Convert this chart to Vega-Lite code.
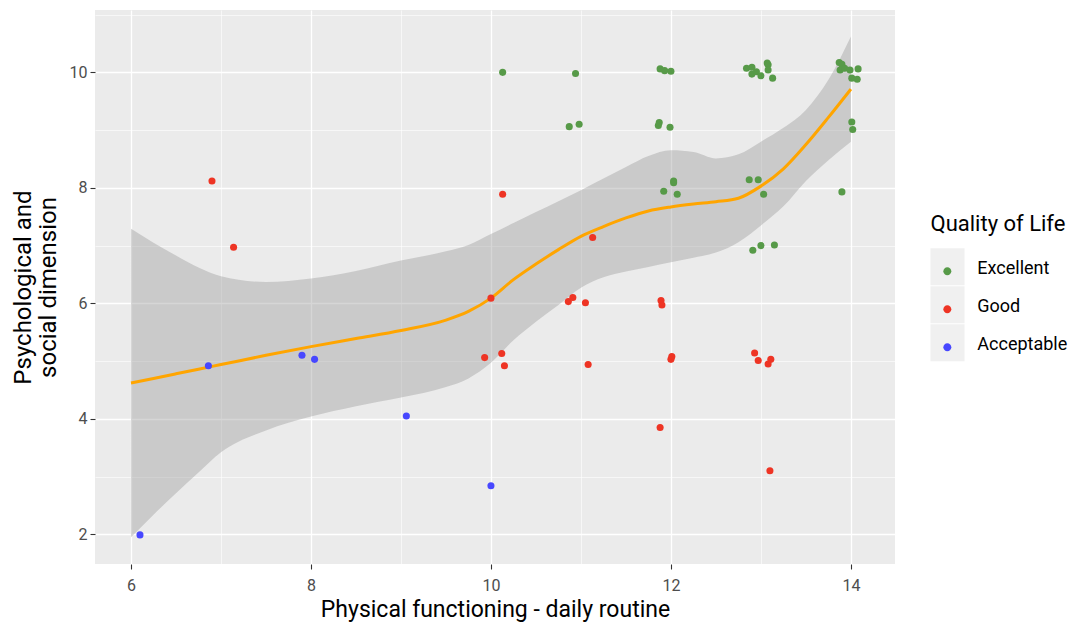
{
  "$schema": "https://vega.github.io/schema/vega-lite/v6.json",
  "width": 800,
  "height": 554,
  "autosize": {"type": "none"},
  "padding": {"left": 95, "top": 10, "right": 178, "bottom": 61},
  "background": "white",
  "view": {"fill": "#EBEBEB", "stroke": null},
  "config": {
    "font": "Roboto",
    "view": {"fill": "#EBEBEB", "stroke": null},
    "axis": {
      "grid": true,
      "gridColor": "#FFFFFF",
      "gridWidth": {"condition": {"test": "datum.value % 2 === 0", "value": 1.3}, "value": 0.6},
      "tickOpacity": {"condition": {"test": "datum.value % 2 === 0", "value": 1}, "value": 0},
      "labelExpr": "datum.value % 2 === 0 ? datum.label : ''",
      "format": "d",
      "domain": false,
      "tickColor": "#333333",
      "tickSize": 5,
      "tickWidth": 1.1,
      "labelColor": "#4D4D4D",
      "labelFontSize": 16,
      "titleFontWeight": "normal",
      "titleColor": "#000000"
    }
  },
  "datasets": {
    "smooth": [
      {"x": 6.0, "fit": 4.62, "lo": 1.95, "hi": 7.29},
      {"x": 6.25, "fit": 4.70, "lo": 2.34, "hi": 7.05},
      {"x": 6.5, "fit": 4.78, "lo": 2.71, "hi": 6.83},
      {"x": 6.75, "fit": 4.86, "lo": 3.07, "hi": 6.62},
      {"x": 7.0, "fit": 4.94, "lo": 3.42, "hi": 6.47},
      {"x": 7.5, "fit": 5.10, "lo": 3.80, "hi": 6.37},
      {"x": 8.0, "fit": 5.25, "lo": 4.04, "hi": 6.43},
      {"x": 8.5, "fit": 5.39, "lo": 4.22, "hi": 6.56},
      {"x": 9.0, "fit": 5.53, "lo": 4.37, "hi": 6.74},
      {"x": 9.5, "fit": 5.71, "lo": 4.55, "hi": 6.90},
      {"x": 9.75, "fit": 5.86, "lo": 4.70, "hi": 7.01},
      {"x": 10.0, "fit": 6.09, "lo": 4.97, "hi": 7.20},
      {"x": 10.25, "fit": 6.41, "lo": 5.36, "hi": 7.39},
      {"x": 10.5, "fit": 6.68, "lo": 5.68, "hi": 7.58},
      {"x": 10.75, "fit": 6.93, "lo": 5.97, "hi": 7.77},
      {"x": 11.0, "fit": 7.16, "lo": 6.27, "hi": 7.96},
      {"x": 11.25, "fit": 7.33, "lo": 6.45, "hi": 8.16},
      {"x": 11.5, "fit": 7.48, "lo": 6.55, "hi": 8.36},
      {"x": 11.75, "fit": 7.60, "lo": 6.63, "hi": 8.55},
      {"x": 12.0, "fit": 7.67, "lo": 6.71, "hi": 8.65},
      {"x": 12.25, "fit": 7.72, "lo": 6.79, "hi": 8.62},
      {"x": 12.5, "fit": 7.76, "lo": 6.88, "hi": 8.51},
      {"x": 12.75, "fit": 7.82, "lo": 7.06, "hi": 8.58},
      {"x": 13.0, "fit": 8.03, "lo": 7.35, "hi": 8.80},
      {"x": 13.25, "fit": 8.33, "lo": 7.68, "hi": 9.04},
      {"x": 13.5, "fit": 8.75, "lo": 8.12, "hi": 9.35},
      {"x": 13.75, "fit": 9.22, "lo": 8.48, "hi": 9.87},
      {"x": 14.0, "fit": 9.71, "lo": 8.80, "hi": 10.62}
    ],
    "points": [
      {"x": 10.13, "y": 10.0, "Q": "Excellent"},
      {"x": 10.94, "y": 9.98, "Q": "Excellent"},
      {"x": 11.88, "y": 10.06, "Q": "Excellent"},
      {"x": 11.93, "y": 10.03, "Q": "Excellent"},
      {"x": 12.0, "y": 10.02, "Q": "Excellent"},
      {"x": 12.84, "y": 10.07, "Q": "Excellent"},
      {"x": 12.9, "y": 10.09, "Q": "Excellent"},
      {"x": 12.9, "y": 9.97, "Q": "Excellent"},
      {"x": 12.95, "y": 10.01, "Q": "Excellent"},
      {"x": 13.0, "y": 9.94, "Q": "Excellent"},
      {"x": 13.07, "y": 10.16, "Q": "Excellent"},
      {"x": 13.08, "y": 10.13, "Q": "Excellent"},
      {"x": 13.08, "y": 10.04, "Q": "Excellent"},
      {"x": 13.13, "y": 9.9, "Q": "Excellent"},
      {"x": 13.87, "y": 10.17, "Q": "Excellent"},
      {"x": 13.9, "y": 10.14, "Q": "Excellent"},
      {"x": 13.88, "y": 10.04, "Q": "Excellent"},
      {"x": 13.93, "y": 10.07, "Q": "Excellent"},
      {"x": 13.99, "y": 10.04, "Q": "Excellent"},
      {"x": 14.08, "y": 10.06, "Q": "Excellent"},
      {"x": 14.01, "y": 9.9, "Q": "Excellent"},
      {"x": 14.07, "y": 9.88, "Q": "Excellent"},
      {"x": 10.87, "y": 9.06, "Q": "Excellent"},
      {"x": 10.98, "y": 9.1, "Q": "Excellent"},
      {"x": 11.87, "y": 9.13, "Q": "Excellent"},
      {"x": 11.86, "y": 9.08, "Q": "Excellent"},
      {"x": 11.99, "y": 9.05, "Q": "Excellent"},
      {"x": 14.01, "y": 9.14, "Q": "Excellent"},
      {"x": 14.02, "y": 9.01, "Q": "Excellent"},
      {"x": 12.03, "y": 8.12, "Q": "Excellent"},
      {"x": 12.03, "y": 8.09, "Q": "Excellent"},
      {"x": 11.92, "y": 7.94, "Q": "Excellent"},
      {"x": 12.07, "y": 7.89, "Q": "Excellent"},
      {"x": 12.87, "y": 8.14, "Q": "Excellent"},
      {"x": 12.97, "y": 8.14, "Q": "Excellent"},
      {"x": 13.03, "y": 7.89, "Q": "Excellent"},
      {"x": 13.9, "y": 7.93, "Q": "Excellent"},
      {"x": 12.91, "y": 6.92, "Q": "Excellent"},
      {"x": 13.0, "y": 7.0, "Q": "Excellent"},
      {"x": 13.15, "y": 7.01, "Q": "Excellent"},
      {"x": 6.9, "y": 8.12, "Q": "Good"},
      {"x": 7.14, "y": 6.97, "Q": "Good"},
      {"x": 10.13, "y": 7.89, "Q": "Good"},
      {"x": 11.13, "y": 7.14, "Q": "Good"},
      {"x": 10.0, "y": 6.09, "Q": "Good"},
      {"x": 9.93, "y": 5.06, "Q": "Good"},
      {"x": 10.86, "y": 6.03, "Q": "Good"},
      {"x": 10.91, "y": 6.1, "Q": "Good"},
      {"x": 11.05, "y": 6.01, "Q": "Good"},
      {"x": 11.89, "y": 6.05, "Q": "Good"},
      {"x": 11.9, "y": 5.97, "Q": "Good"},
      {"x": 10.12, "y": 5.13, "Q": "Good"},
      {"x": 10.15, "y": 4.92, "Q": "Good"},
      {"x": 11.08, "y": 4.94, "Q": "Good"},
      {"x": 12.0, "y": 5.03, "Q": "Good"},
      {"x": 12.01, "y": 5.08, "Q": "Good"},
      {"x": 12.93, "y": 5.14, "Q": "Good"},
      {"x": 12.97, "y": 5.01, "Q": "Good"},
      {"x": 13.08, "y": 4.95, "Q": "Good"},
      {"x": 13.11, "y": 5.03, "Q": "Good"},
      {"x": 11.88, "y": 3.85, "Q": "Good"},
      {"x": 13.1, "y": 3.1, "Q": "Good"},
      {"x": 6.86, "y": 4.92, "Q": "Acceptable"},
      {"x": 7.9, "y": 5.1, "Q": "Acceptable"},
      {"x": 8.04, "y": 5.03, "Q": "Acceptable"},
      {"x": 9.06, "y": 4.05, "Q": "Acceptable"},
      {"x": 10.0, "y": 2.84, "Q": "Acceptable"},
      {"x": 6.1, "y": 1.99, "Q": "Acceptable"}
    ],
    "keys": [
      {"QB": "Excellent"},
      {"QB": "Good"},
      {"QB": "Acceptable"}
    ]
  },
  "layer": [
    {
      "data": {"name": "smooth"},
      "mark": {"type": "area", "fill": "#999999", "opacity": 0.4, "interpolate": "monotone"},
      "encoding": {
        "x": {"field": "x", "type": "quantitative", "scale": {"domain": [5.6, 14.49], "nice": false, "zero": false},
              "axis": {"values": [6, 7, 8, 9, 10, 11, 12, 13, 14], "title": "Physical functioning - daily routine", "titleFontSize": 23, "titlePadding": 5, "labelPadding": 8}},
        "y": {"field": "lo", "type": "quantitative", "scale": {"domain": [1.486, 11.08], "nice": false, "zero": false},
              "axis": {"values": [2, 3, 4, 5, 6, 7, 8, 9, 10, 11], "title": ["Psychological and", "social dimension"], "titleFontSize": 24, "titleLineHeight": 25, "titlePadding": 9, "labelPadding": 3}},
        "y2": {"field": "hi"}
      }
    },
    {
      "data": {"name": "smooth"},
      "mark": {"type": "line", "color": "#FFA500", "strokeWidth": 3, "interpolate": "monotone"},
      "encoding": {
        "x": {"field": "x", "type": "quantitative", "axis": {"title": "Physical functioning - daily routine"}},
        "y": {"field": "fit", "type": "quantitative", "axis": {"title": ["Psychological and", "social dimension"]}}
      }
    },
    {
      "data": {"name": "keys"},
      "mark": {"type": "point", "filled": true, "opacity": 0},
      "encoding": {
        "color": {
          "field": "QB", "type": "nominal",
          "scale": {"domain": ["Excellent", "Good", "Acceptable"], "range": ["#F0F0F0", "#F0F0F0", "#F0F0F0"]},
          "legend": {
            "title": null, "orient": "none", "legendX": 834, "legendY": 238.3,
            "symbolType": "M-0.92,-1H0.92V1H-0.92Z", "symbolSize": 1369, "symbolStrokeWidth": 0,
            "symbolOpacity": 1, "labelExpr": "''", "labelFontSize": 1, "rowPadding": 1, "padding": 0, "zindex": 1
          }
        }
      }
    },
    {
      "data": {"name": "points"},
      "mark": {"type": "point", "filled": true, "size": 50, "opacity": 1, "strokeWidth": 0},
      "encoding": {
        "x": {"field": "x", "type": "quantitative", "axis": {"title": "Physical functioning - daily routine"}},
        "y": {"field": "y", "type": "quantitative", "axis": {"title": ["Psychological and", "social dimension"]}},
        "color": {
          "field": "Q", "type": "nominal",
          "scale": {"domain": ["Excellent", "Good", "Acceptable"], "range": ["#579A48", "#EE3424", "#4747FF"]},
          "legend": {
            "title": "Quality of Life", "orient": "none", "legendX": 835.5, "legendY": 204,
            "titleFontSize": 22, "titleFontWeight": "normal", "titleColor": "#000000", "titlePadding": 14,
            "labelFontSize": 18, "labelColor": "#000000", "labelOffset": 9.8,
            "symbolType": "M0.126,0.146A0.216,0.216,0,1,1,-0.306,0.146A0.216,0.216,0,1,1,0.126,0.146Z",
            "symbolSize": 1369, "symbolStrokeWidth": 0,
            "symbolOpacity": 1, "rowPadding": 10, "padding": 0, "zindex": 2
          }
        }
      }
    }
  ],
  "resolve": {"scale": {"color": "independent"}, "legend": {"color": "independent"}}
}
